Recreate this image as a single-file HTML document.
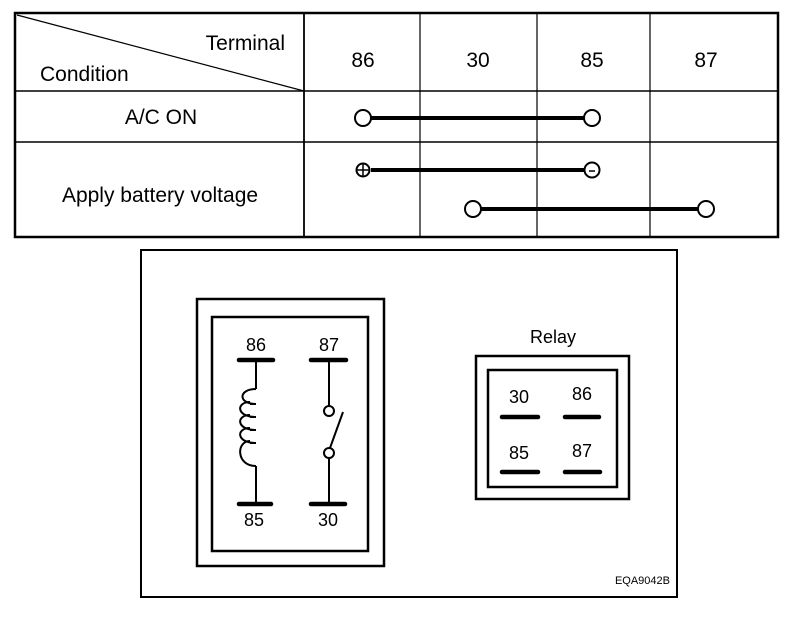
<!DOCTYPE html>
<html><head><style>body{margin:0;background:#fff}svg{display:block}text{font-family:"Liberation Sans",sans-serif;fill:#000}</style></head><body>
<svg width="800" height="618" viewBox="0 0 800 618">
<g stroke="#000" fill="none">
<rect x="15" y="13" width="763" height="224" stroke-width="2.5"/>
<line x1="15" y1="91" x2="778" y2="91" stroke-width="1.5"/>
<line x1="15" y1="142" x2="778" y2="142" stroke-width="1.5"/>
<line x1="304" y1="13" x2="304" y2="237" stroke-width="1.8"/>
<line x1="420" y1="13" x2="420" y2="237" stroke-width="1.2"/>
<line x1="537" y1="13" x2="537" y2="237" stroke-width="1.2"/>
<line x1="650" y1="13" x2="650" y2="237" stroke-width="1.2"/>
<line x1="17" y1="15" x2="304" y2="91" stroke-width="1.2"/>
<line x1="371" y1="118" x2="584" y2="118" stroke-width="4"/>
<line x1="371" y1="170" x2="584" y2="170" stroke-width="4"/>
<line x1="481" y1="209" x2="698" y2="209" stroke-width="4"/>
<g stroke-width="2" fill="#fff">
<circle cx="363" cy="118" r="8"/><circle cx="592" cy="118" r="8"/>
<circle cx="363" cy="170" r="6.5"/><circle cx="592" cy="170" r="7.5"/>
<circle cx="473" cy="209" r="8"/><circle cx="706" cy="209" r="8"/>
</g>
<line x1="357" y1="170" x2="369" y2="170" stroke-width="1.5"/><line x1="363" y1="164" x2="363" y2="176" stroke-width="1.5"/>
<line x1="589" y1="171" x2="595" y2="171" stroke-width="1.5"/>
<rect x="141" y="250" width="536" height="347" stroke-width="2"/>
<rect x="197" y="299" width="187" height="267" stroke-width="2.5"/>
<rect x="212" y="317" width="156" height="234" stroke-width="2.5"/>
<g stroke-width="4.5" stroke-linecap="round"><line x1="239" y1="360" x2="273" y2="360"/><line x1="311" y1="360" x2="346" y2="360"/><line x1="239" y1="504" x2="271" y2="504"/><line x1="311" y1="504" x2="345" y2="504"/>
<line x1="502" y1="417" x2="538" y2="417"/><line x1="565" y1="417" x2="599" y2="417"/><line x1="502" y1="472" x2="538" y2="472"/><line x1="565" y1="472" x2="600" y2="472"/></g>
<path d="M256 360 V389 M256 466 V504" stroke-width="2"/>
<path d="M256 389 C238 389 238 404 256 404 M250 402 C236 402 236 417 256 417 M250 415 C236 415 236 430 256 430 M250 428 C236 428 236 443 256 443 M250 441 C236 441 236 466 256 466 M250 404 H256 M250 417 H256 M250 430 H256 M250 443 H256" stroke-width="2"/>
<path d="M329 360 V406 M329 458 V504 M330 448 L343 412" stroke-width="2"/>
<circle cx="329" cy="411" r="5" stroke-width="2"/><circle cx="329" cy="453" r="5" stroke-width="2"/>
<rect x="476" y="356" width="153" height="143" stroke-width="2.5"/>
<rect x="488" y="370" width="129" height="117" stroke-width="2.5"/>
</g>
<g font-size="21" text-anchor="middle">
<text x="363" y="67">86</text><text x="478" y="67">30</text><text x="592" y="67">85</text><text x="706" y="67">87</text>
<text x="161" y="124">A/C ON</text><text x="160" y="202">Apply battery voltage</text>
</g>
<text x="285" y="50" font-size="21" text-anchor="end">Terminal</text>
<text x="40" y="81" font-size="21">Condition</text>
<g font-size="18" text-anchor="middle">
<text x="256" y="351">86</text><text x="329" y="351">87</text><text x="254" y="526">85</text><text x="328" y="526">30</text>
<text x="553" y="343">Relay</text>
<text x="519" y="403">30</text><text x="582" y="400">86</text><text x="519" y="459">85</text><text x="582" y="457">87</text>
</g>
<text x="670" y="584" font-size="11" text-anchor="end">EQA9042B</text>
</svg>
</body></html>
